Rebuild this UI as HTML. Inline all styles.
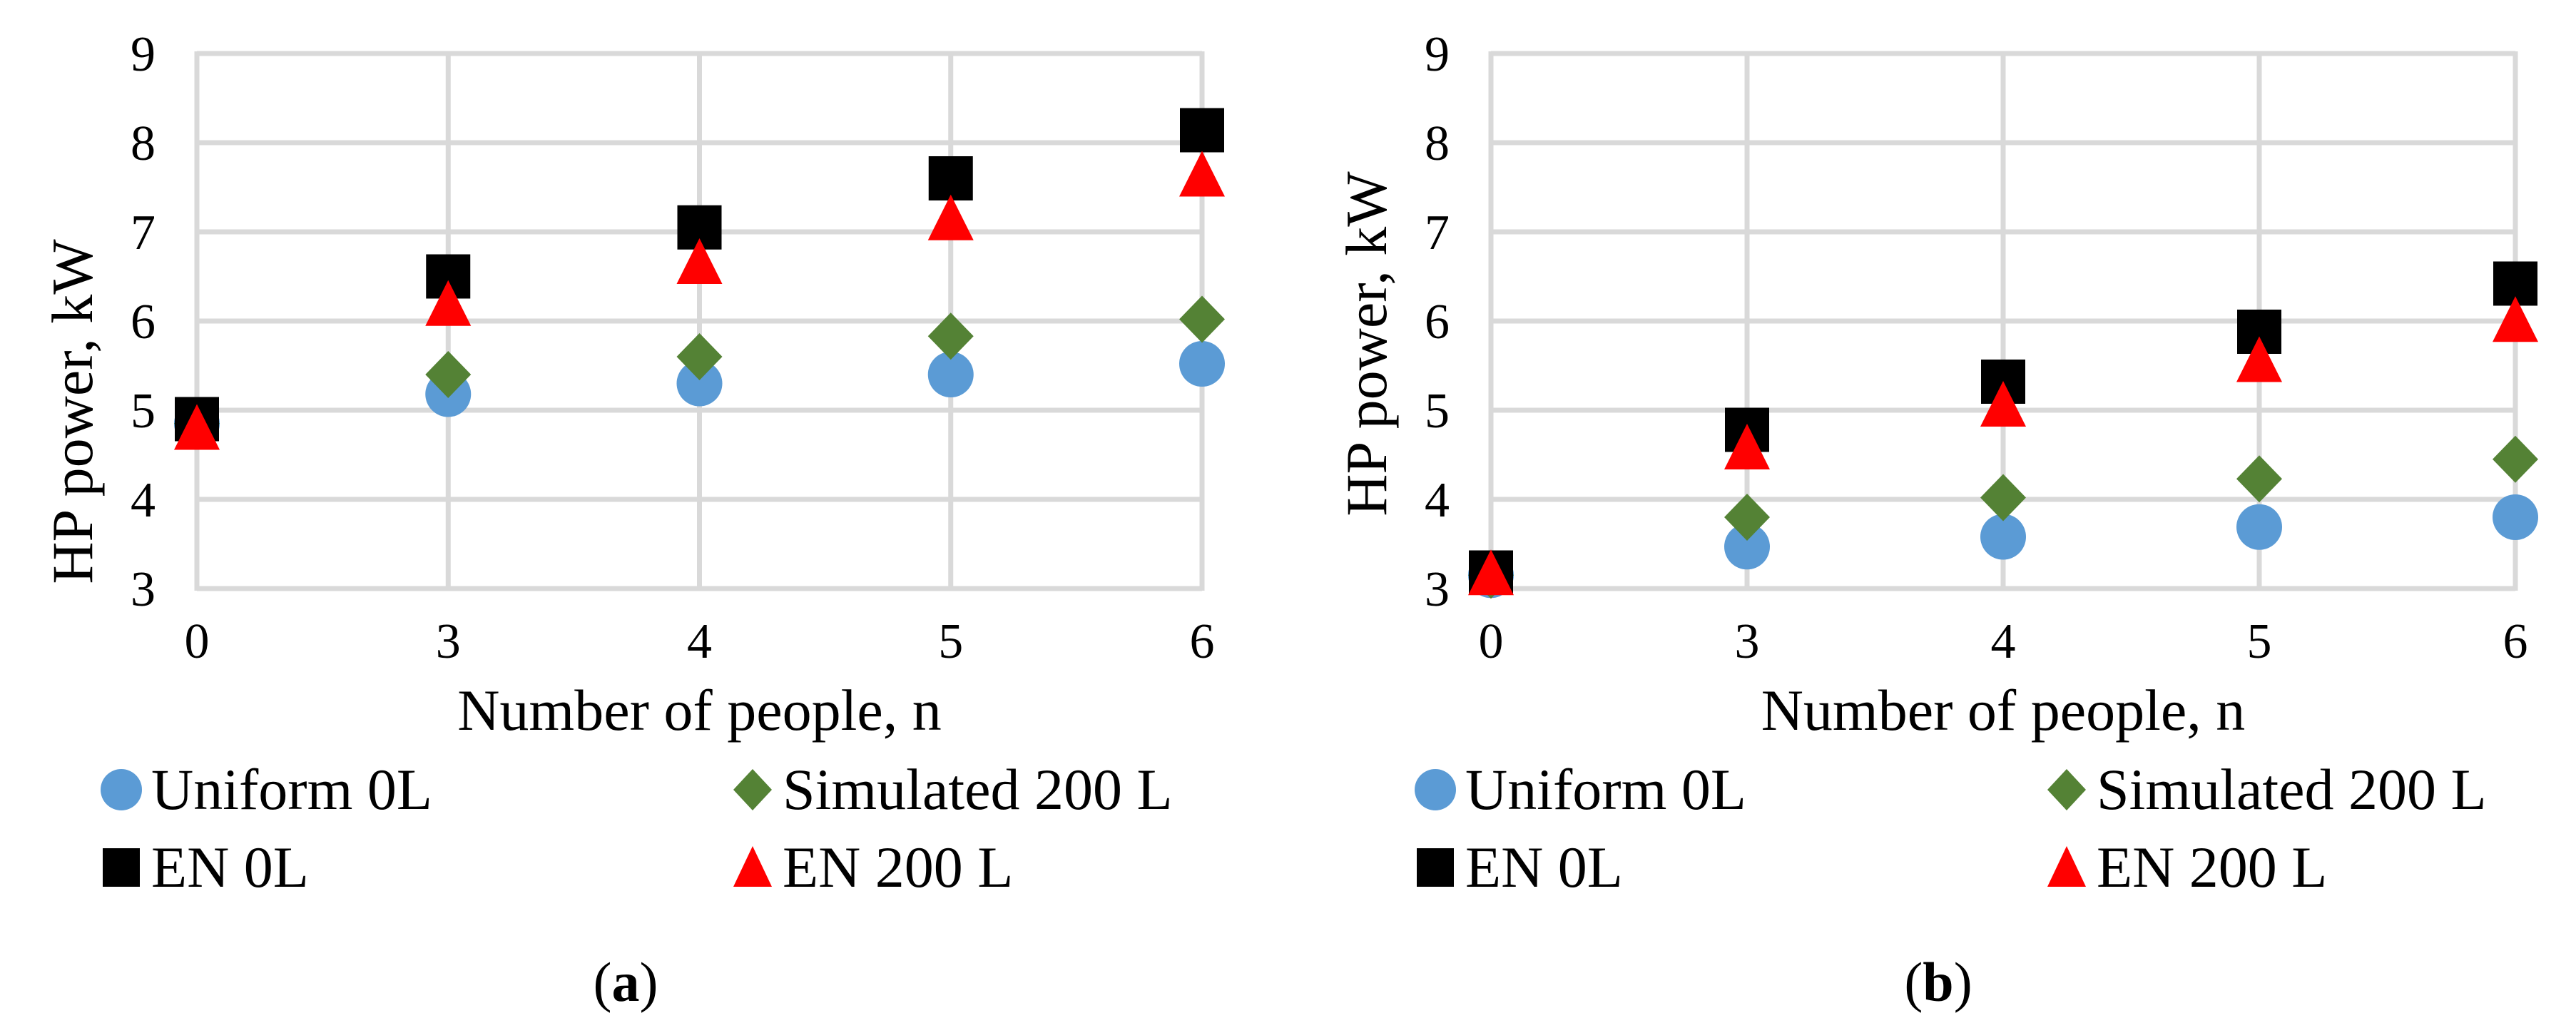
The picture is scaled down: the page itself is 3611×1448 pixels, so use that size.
<!DOCTYPE html>
<html><head><meta charset="utf-8"><style>
html,body{margin:0;padding:0;background:#fff;}
svg{display:block;font-family:"Liberation Serif",serif;}
</style></head><body>
<svg id="fig" width="3611" height="1448" viewBox="0 0 3611 1448" xmlns="http://www.w3.org/2000/svg"></svg>
<script>
const categories = ["0","3","4","5","6"];
const yTicks = [3,4,5,6,7,8,9];
const seriesNames = ["Uniform 0L","Simulated 200 L","EN 0L","EN 200 L"];
const aUniform = [4.85,5.18,5.30,5.40,5.52];
const aSimulated = [4.85,5.40,5.60,5.83,6.02];
const aEN0 = [4.90,6.50,7.05,7.60,8.14];
const aEN200 = [4.78,6.17,6.64,7.13,7.62];
const bUniform = [3.15,3.47,3.58,3.69,3.80];
const bSimulated = [3.15,3.80,4.02,4.23,4.45];
const bEN0 = [3.18,4.78,5.32,5.88,6.42];
const bEN200 = [3.15,4.56,5.04,5.54,5.99];

const NS = "http://www.w3.org/2000/svg";
const svg = document.getElementById('fig');
function mk(tag, attrs, parent){
  const e = document.createElementNS(NS, tag);
  for (const k in attrs) e.setAttribute(k, attrs[k]);
  (parent||svg).appendChild(e);
  return e;
}
const colors = ["#5b9bd5","#548235","#000000","#ff0000"];
function marker(type, cx, cy, g){
  let e;
  if (type===0) e = mk('ellipse',{cx:cx,cy:cy,rx:32,ry:32,fill:colors[0]},g);
  else if (type===1) e = mk('polygon',{points:`${cx},${cy-33} ${cx+32},${cy} ${cx},${cy+33} ${cx-32},${cy}`,fill:colors[1]},g);
  else if (type===2) e = mk('rect',{x:cx-31,y:cy-31,width:62,height:62,fill:colors[2]},g);
  else e = mk('polygon',{points:`${cx},${cy-36} ${cx+32},${cy+28} ${cx-32},${cy+28}`,fill:colors[3]},g);
  return e;
}
function chart(id, x0, x1, yTitleY, data, legX, legX2, label, labelX){
  const y9 = 75, y3 = 825;
  const g = mk('g',{});
  
  
  const xs = i => x0 + (x1-x0)*i/(categories.length-1);
  const ys = v => y3 - (v-3)*(y3-y9)/6;
  // grid
  yTicks.forEach(t=>{
    const l = mk('line',{x1:x0,x2:x1,y1:ys(t),y2:ys(t),stroke:'#d9d9d9','stroke-width':7},g);
    
    
    const tx = mk('text',{x:x0-58,y:ys(t)+24,'font-size':70,'text-anchor':'end'},g);
    tx.textContent = t;
    
    
  });
  categories.forEach((c,i)=>{
    const l = mk('line',{x1:xs(i),x2:xs(i),y1:y9-3,y2:y3+3,stroke:'#d9d9d9','stroke-width':7},g);
    
    
    const tx = mk('text',{x:xs(i),y:922,'font-size':70,'text-anchor':'middle'},g);
    tx.textContent = c;
    
    
  });
  // axis titles
  const xt = mk('text',{x:(x0+x1)/2,y:1023,'font-size':82,'text-anchor':'middle'},g);
  xt.textContent = 'Number of people, n';
  
  
  const ytx = x0 - 175;
  const yt = mk('text',{x:ytx,y:yTitleY,'font-size':82,'text-anchor':'middle',transform:`rotate(-90 ${ytx} ${yTitleY}) translate(0 28)`},g);
  yt.textContent = 'HP power, kW';
  
  
  // series
  data.forEach((arr,s)=>{
    const sg = mk('g',{},g);
    
    
    arr.forEach((v,i)=>{
      const m = marker(s, xs(i), ys(v), sg);
      
      
    });
  });
  // legend
  const pos = [[legX,1107],[legX2,1107],[legX,1216],[legX2,1216]];
  seriesNames.forEach((n,s)=>{
    const lg = mk('g',{},g);
    
    
    const [lx,ly] = pos[s];
    if (s===0) mk('ellipse',{cx:lx,cy:ly,rx:29,ry:29,fill:colors[0]},lg);
    else if (s===1) mk('polygon',{points:`${lx},${ly-29} ${lx+27},${ly} ${lx},${ly+29} ${lx-27},${ly}`,fill:colors[1]},lg);
    else if (s===2) mk('rect',{x:lx-26,y:ly-27,width:52,height:54,fill:'#000'},lg);
    else mk('polygon',{points:`${lx},${ly-30} ${lx+27},${ly+27} ${lx-27},${ly+27}`,fill:colors[3]},lg);
    const t = mk('text',{x:lx+42,y:ly+27,'font-size':82},lg);
    t.textContent = n;
  });
  const lb = mk('text',{x:labelX,y:1403,'font-size':78,'text-anchor':'middle'},g);
  lb.innerHTML = '(<tspan font-weight="bold">'+label+'</tspan>)';
  
  
}
chart('a', 276, 1685, 577, [aUniform,aSimulated,aEN0,aEN200], 170, 1055, 'a', 877);
chart('b', 2090, 3526, 482, [bUniform,bSimulated,bEN0,bEN200], 2012, 2897, 'b', 2717);
</script>
</body></html>
